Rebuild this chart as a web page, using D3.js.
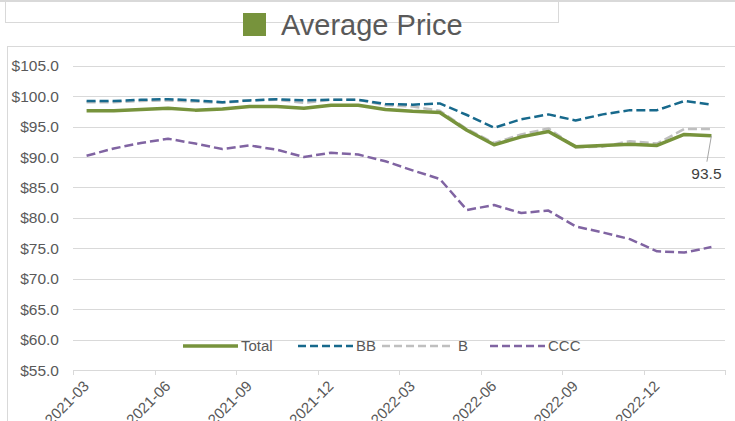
<!DOCTYPE html>
<html>
<head>
<meta charset="utf-8">
<script src="https://cdn.jsdelivr.net/npm/d3@7"></script>
<style>
  body { margin: 0; background: #fff; }
  svg { display: block; font-family: "Liberation Sans", Arial, sans-serif; }
</style>
</head>
<body>
<svg id="chart"></svg>
<script>
// months on the category axis
const months = ["2021-03","2021-04","2021-05","2021-06","2021-07","2021-08","2021-09","2021-10","2021-11","2021-12",
  "2022-01","2022-02","2022-03","2022-04","2022-05","2022-06","2022-07","2022-08","2022-09","2022-10","2022-11","2022-12",
  "2023-01","2023-02"];
const tickLabels = ["2021-03","2021-06","2021-09","2021-12","2022-03","2022-06","2022-09","2022-12"];
const yTicks = [55,60,65,70,75,80,85,90,95,100,105];

const totalValues = [97.6,97.6,97.8,98.0,97.7,97.9,98.3,98.3,98.0,98.5,98.5,97.8,97.5,97.3,94.4,92.0,93.3,94.2,91.7,91.9,92.1,91.9,93.7,93.5];
const bbValues    = [99.2,99.2,99.4,99.5,99.3,99.0,99.3,99.5,99.3,99.4,99.4,98.7,98.6,98.8,96.9,94.8,96.2,97.0,96.0,97.0,97.7,97.7,99.2,98.6];
const bValues     = [99.0,99.0,99.2,99.3,99.1,98.9,99.3,99.4,98.9,99.4,99.4,98.5,98.3,97.6,94.6,92.3,93.7,94.7,91.6,91.7,92.6,92.2,94.6,94.6];
const cccValues   = [90.2,91.4,92.3,93.0,92.2,91.3,91.9,91.2,90.0,90.7,90.4,89.3,87.8,86.4,81.3,82.1,80.8,81.2,78.6,77.6,76.5,74.5,74.3,75.2];

const seriesNames = ["Total","BB","B","CCC"];
const colours = { "Total": "#77933C", "BB": "#17698C", "B": "#BFBFBF", "CCC": "#8064A2" };
const dashes = { "Total": null, "BB": "9,4", "B": "9,4", "CCC": "9,4" };
const widths = { "Total": 3.5, "BB": 2.5, "B": 2.5, "CCC": 2.5 };

const series = [
  { name: "Total", values: totalValues },
  { name: "BB", values: bbValues },
  { name: "B", values: bValues },
  { name: "CCC", values: cccValues }
];

const width = 735, height = 421;
const margin = { top: 65.7, right: 10, bottom: 51, left: 73 };

const svg = d3.select("#chart").attr("width", width).attr("height", height);

// boxes around title and plot, as in the source
svg.append("line").attr("x1", 0).attr("x2", width).attr("y1", 1).attr("y2", 1)
  .attr("stroke", "#d9d9d9").attr("stroke-width", 2);
svg.append("rect").attr("x", 5.5).attr("y", -10).attr("width", 553).attr("height", 32.5)
  .attr("fill", "none").attr("stroke", "#d9d9d9");
svg.append("rect").attr("x", 7.5).attr("y", 46.5).attr("width", 740).attr("height", 400)
  .attr("fill", "none").attr("stroke", "#d9d9d9");

// title with its legend square
svg.append("rect").attr("x", 243).attr("y", 13).attr("width", 23).attr("height", 23)
  .attr("fill", colours.Total);
svg.append("text").attr("x", 281).attr("y", 34.5)
  .attr("font-size", 29).attr("fill", "#595959").text("Average Price");

const x = d3.scaleBand().domain(months).range([margin.left, 725]).padding(0);
const y = d3.scaleLinear().domain([55, 105]).range([370, margin.top]);

// gridlines
svg.append("g").selectAll("line").data(yTicks.slice(1)).join("line")
  .attr("x1", margin.left).attr("x2", 725)
  .attr("y1", d => Math.round(y(d)) + 0.5).attr("y2", d => Math.round(y(d)) + 0.5)
  .attr("stroke", "#d9d9d9");

// y labels
svg.append("g").selectAll("text").data(yTicks).join("text")
  .attr("x", 59).attr("y", d => y(d)).attr("dy", "0.36em")
  .attr("text-anchor", "end").attr("font-size", 15.5).attr("fill", "#595959")
  .text(d => "$" + d3.format(".1f")(d));

// x axis
const xAxis = svg.append("g").attr("transform", "translate(0,370)");
xAxis.append("line").attr("x1", margin.left).attr("x2", 725).attr("y1", 0.5).attr("y2", 0.5)
  .attr("stroke", "#d9d9d9");
const tickPos = tickLabels.map(d => x(d)).concat([725]);
xAxis.selectAll(".tk").data(tickPos).join("line").attr("class", "tk")
  .attr("x1", d => Math.round(d) + 0.5).attr("x2", d => Math.round(d) + 0.5)
  .attr("y1", 0).attr("y2", 5).attr("stroke", "#d9d9d9");
xAxis.selectAll("text").data(tickLabels).join("text")
  .attr("transform", d => "translate(" + (x(d) + 17) + ",17) rotate(-45)")
  .attr("text-anchor", "end").attr("font-size", 15).attr("fill", "#595959")
  .text(d => d);

// lines
const line = d3.line()
  .x((d, i) => x(months[i]) + x.bandwidth() / 2)
  .y(d => y(d));

const drawOrder = ["CCC", "B", "BB", "Total"];
svg.append("g").attr("fill", "none").attr("stroke-linejoin", "round")
  .selectAll("path").data(drawOrder.map(n => series.find(s => s.name === n))).join("path")
  .attr("stroke", d => colours[d.name])
  .attr("stroke-width", d => widths[d.name])
  .attr("stroke-dasharray", d => dashes[d.name])
  .attr("d", d => line(d.values));

// label on last Total point
const lastI = months.length - 1;
const lx = x(months[lastI]) + x.bandwidth() / 2;
const ly = y(totalValues[lastI]);
svg.append("line").attr("x1", lx).attr("y1", ly).attr("x2", lx - 4.5).attr("y2", ly + 26)
  .attr("stroke", "#a6a6a6");
svg.append("text").attr("x", lx - 5).attr("y", ly + 43).attr("text-anchor", "middle")
  .attr("font-size", 15.5).attr("fill", "#404040").text(d3.format(".1f")(totalValues[lastI]));

// legend
const legendX = [183, 298, 382, 490];
const legend = svg.append("g").attr("transform", "translate(0,346)");
const items = legend.selectAll("g").data(seriesNames).join("g")
  .attr("transform", (d, i) => "translate(" + legendX[i] + ",0)");
items.append("line").attr("x1", 0).attr("x2", (d, i) => i === 2 ? 70 : 55).attr("y1", 0).attr("y2", 0)
  .attr("stroke", d => colours[d]).attr("stroke-width", d => widths[d])
  .attr("stroke-dasharray", d => dashes[d] ? "8,4" : null);
items.append("text").attr("x", (d, i) => i === 2 ? 76 : 58).attr("dy", "0.36em")
  .attr("font-size", 15).attr("fill", "#595959").text(d => d);
</script>
</body>
</html>
